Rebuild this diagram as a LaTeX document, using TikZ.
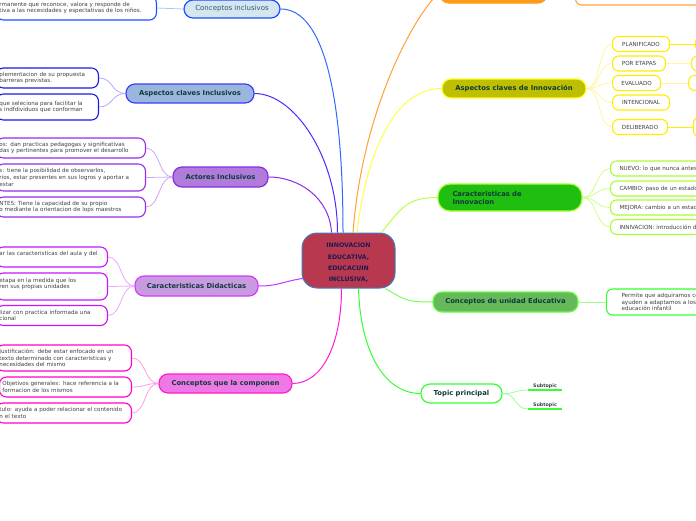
\documentclass[tikz,border=0pt]{standalone}
\usepackage{fontspec}
\setmainfont{DejaVu Sans}
\usetikzlibrary{positioning}
\definecolor{rootfill}{HTML}{B8394F}
\definecolor{rootline}{HTML}{3F7FBF}
\definecolor{roottext}{HTML}{1B1B4F}
\definecolor{topictext}{HTML}{0F3B3B}
\definecolor{leaftext}{HTML}{404040}
\definecolor{ciconn}{HTML}{3366FF}
\definecolor{cifill}{HTML}{D5E6F0}
\definecolor{ciline}{HTML}{1A52FF}
\definecolor{citext}{HTML}{2D5F66}
\definecolor{citwig}{HTML}{A9C4FF}
\definecolor{aciconn}{HTML}{4A2BFF}
\definecolor{acifill}{HTML}{9BB6DC}
\definecolor{aciline}{HTML}{3D3DFF}
\definecolor{acileaf}{HTML}{1A1AE6}
\definecolor{acitwig}{HTML}{B3A9FF}
\definecolor{aiconn}{HTML}{8A2BF0}
\definecolor{aifill}{HTML}{B07BDB}
\definecolor{ailine}{HTML}{8B2BE2}
\definecolor{aileaf}{HTML}{9A2BEA}
\definecolor{aitwig}{HTML}{CFA5F2}
\definecolor{cdconn}{HTML}{CC33FF}
\definecolor{cdfill}{HTML}{C89AE0}
\definecolor{cdline}{HTML}{D23CFF}
\definecolor{cdleaf}{HTML}{CC11FF}
\definecolor{cdtwig}{HTML}{EEA6FF}
\definecolor{cqcconn}{HTML}{FF1AD9}
\definecolor{cqcfill}{HTML}{EE78E6}
\definecolor{cqcline}{HTML}{FF1ACC}
\definecolor{cqcleaf}{HTML}{FF00CC}
\definecolor{cqctwig}{HTML}{FF9EE8}
\definecolor{oconn}{HTML}{FFA033}
\definecolor{ofill}{HTML}{FF9A1A}
\definecolor{oleaf}{HTML}{FFA530}
\definecolor{yconn}{HTML}{FFFF44}
\definecolor{yfill}{HTML}{BDBF00}
\definecolor{yline}{HTML}{FFFF26}
\definecolor{yleaf}{HTML}{FFEE00}
\definecolor{ytwig}{HTML}{FFF59E}
\definecolor{gconn}{HTML}{BBFF44}
\definecolor{gfill}{HTML}{1FBE10}
\definecolor{gline}{HTML}{A6FF33}
\definecolor{gtwig}{HTML}{CCFF88}
\definecolor{ueconn}{HTML}{77FF55}
\definecolor{uefill}{HTML}{66B95A}
\definecolor{ueline}{HTML}{66FF44}
\definecolor{ueleaf}{HTML}{33FF33}
\definecolor{uetwig}{HTML}{99FF88}
\definecolor{tpconn}{HTML}{33FF33}
\definecolor{tptwig}{HTML}{99FF99}

\begin{document}
\begin{tikzpicture}[x=1pt,y=-1pt,
  topic/.style={draw,rounded corners=9pt,line width=1.2pt,minimum height=19pt,inner sep=0pt,
    font=\fontsize{6.8}{8}\selectfont\bfseries,text=topictext},
  leafL/.style={draw,fill=white,rounded corners=7pt,line width=1.1pt,anchor=east,align=left,
    inner xsep=3pt,inner ysep=1pt,font=\fontsize{5.6}{6.6}\selectfont,text=leaftext},
  leafR/.style={draw,fill=white,rounded corners=6pt,line width=1.1pt,anchor=west,
    minimum height=15pt,inner sep=0pt,font=\fontsize{5.6}{6.6}\selectfont,text=leaftext},
  link/.style={line width=1pt},
  twig/.style={line width=0.8pt}]
\useasboundingbox (0,0) rectangle (696,520);

% central topic
\node[draw=rootline,fill=rootfill,line width=1pt,rounded corners=15pt,minimum width=93pt,
  minimum height=55pt,align=center,font=\fontsize{6.2}{11.3}\selectfont\bfseries,text=roottext]
  (root) at (348.5,260.5) {\rule{0pt}{9.7pt}INNOVACION\\EDUCATIVA,\\EDUCACUIN\\INCLUSIVA,};

% left side
\node[topic,draw=ciline,fill=cifill,minimum width=96pt,minimum height=18pt,
  font=\fontsize{7}{8}\selectfont,text=citext] (ci) at (232,9) {Conceptos inclusivos};
\node[leafL,draw=ciline,text width=154pt,minimum height=24pt] (ci1) at (157,8)
  {rmanente que reconoce, valora y responde de\\tiva a las necesidades y espectativas de los niños.};

\node[topic,draw=aciline,fill=acifill,minimum width=128pt] (aci) at (190,93.5) {Aspectos claves Inclusivos};
\node[leafL,draw=acileaf,text width=96pt,minimum height=20pt] (aci1) at (99,78)
  {plementacion de su propuesta\\ barreras previstas.};
\node[leafL,draw=acileaf,text width=96pt,minimum height=26pt] (aci2) at (99,107)
  {que seleciona para facilitar la\\s indfdividuos que conforman};

\node[topic,draw=ailine,fill=aifill,minimum width=95pt,minimum height=20pt] (ai) at (220.5,177) {Actores Inclusivos};
\node[leafL,draw=aileaf,text width=143pt,minimum height=20pt] (ai1) at (146,148)
  {os: dan practicas pedagogas y significativas\\das y pertinentes para promover el desarrollo};
\node[leafL,draw=aileaf,text width=143pt,minimum height=27pt] (ai2) at (146,177.5)
  {s: tiene la posibilidad de observarlos,\\rios, estar presentes en sus logros y aportar a\\estar};
\node[leafL,draw=aileaf,text width=143pt,minimum height=20pt] (ai3) at (146,207)
  {NTES: Tiene la capacidad de su propio\\o mediante la orientacion de lops maestros};

\node[topic,draw=cdline,fill=cdfill,minimum width=123pt,minimum height=20pt] (cd) at (196.5,286) {Caracteristicas Didacticas};
\node[leafL,draw=cdleaf,text width=105pt,minimum height=20pt] (cd1) at (108,257)
  {ar las caracteristicas del aula y del\\\mbox{}};
\node[leafL,draw=cdleaf,text width=105pt,minimum height=27pt] (cd2) at (108,286.5)
  {etapa en la medida que los\\ren sus propias unidades\\\mbox{}};
\node[leafL,draw=cdleaf,text width=105pt,minimum height=20pt] (cd3) at (108,315.5)
  {lizar con practica informada una\\cional};

\node[topic,draw=cqcline,fill=cqcfill,minimum width=133pt] (cqc) at (225.5,383.5) {Conceptos que la componen};
\node[leafL,draw=cqcleaf,text width=129pt,minimum height=26pt] (cqc1) at (132,358)
  {Justificación: debe estar enfocado en un\\texto determinado con caracteristicas y\\necesidades del mismo};
\node[leafL,draw=cqcleaf,text width=126pt,minimum height=20pt] (cqc2) at (132,387)
  {Objetivos generales: hace referencia a la\\formacion de los mismos};
\node[leafL,draw=cqcleaf,text width=129pt,minimum height=20pt] (cqc3) at (132,413)
  {tulo: ayuda a poder relacionar el contenido\\n el texto};

% right side
\node[topic,draw=ofill,fill=ofill,minimum width=107pt,minimum height=20pt] (oi) at (493.5,-7) {};
\node[leafR,draw=oleaf,text width=120pt,inner xsep=16pt,minimum height=26pt,align=left] (oi1) at (575,-8)
  {\mbox{}\\\mbox{}\\evaluación.};

\node[topic,draw=yline,fill=yfill,minimum width=144pt] (acn) at (514,88.5) {Aspectos claves de Innovación};
\node[leafR,draw=yleaf,minimum width=57pt] (pl) at (612,44) {PLANIFICADO};
\node[leafR,draw=yleaf,minimum width=53pt] (pe) at (612,63.5) {POR ETAPAS};
\node[leafR,draw=yleaf,minimum width=48pt] (ev) at (612,83) {EVALUADO};
\node[leafR,draw=yleaf,minimum width=57pt] (in) at (612,102.5) {INTENCIONAL};
\node[leafR,draw=yleaf,minimum width=55pt] (de) at (612,127) {DELIBERADO};
\node[leafR,draw=yleaf,minimum width=30pt] (pl2) at (695,44) {};
\node[leafR,draw=yleaf,minimum width=30pt] (pe2) at (691,63.5) {};
\node[leafR,draw=yleaf,minimum width=30pt] (ev2) at (688,83) {};
\node[leafR,draw=yleaf,minimum width=30pt,minimum height=20pt] (de2) at (693,127) {};

\node[topic,draw=gline,fill=gfill,minimum width=144pt,minimum height=27pt,rounded corners=12pt,
  align=left,text width=115pt] (cin) at (510,197.5) {Caracteristicas de\\Innovacion};
\node[leafR,draw=gline,text width=90pt,inner xsep=9pt,align=left] (cin1) at (610,168.5) {NUEVO: lo que nunca antes};
\node[leafR,draw=gline,text width=90pt,inner xsep=9pt,align=left] (cin2) at (610,188.5) {CAMBIO: paso de un estado};
\node[leafR,draw=gline,text width=90pt,inner xsep=9pt,align=left] (cin3) at (610,207.5) {MEJORA: cambio a un estad};
\node[leafR,draw=gline,text width=90pt,inner xsep=9pt,align=left] (cin4) at (610,227) {INNIVACION: introducción d};

\node[topic,draw=ueline,fill=uefill,minimum width=145pt,minimum height=20pt] (cue) at (505.5,302) {Conceptos de unidad Educativa};
\node[leafR,draw=ueleaf,text width=90pt,inner xsep=15pt,minimum height=26pt,align=left] (cue1) at (606,302)
  {Permite que adquiramos co\\ayuden a adaptamos a los\\educación infantil};

\node[topic,draw=tpconn,fill=white,minimum width=81pt] (tp) at (461.5,393.5) {Topic principal};
\node[font=\fontsize{4.8}{5}\selectfont\bfseries,text=leaftext,minimum width=33pt,inner sep=1.5pt] (st1) at (545,386) {Subtopic};
\node[font=\fontsize{4.8}{5}\selectfont\bfseries,text=leaftext,minimum width=33pt,inner sep=1.5pt] (st2) at (545,405) {Subtopic};
\draw[tpconn,line width=1.6pt] (st1.south west) -- (st1.south east);
\draw[tpconn,line width=1.6pt] (st2.south west) -- (st2.south east);

% branches from the central topic
\draw[link,ciconn] ([xshift=-5.5pt]root.north) .. controls +(0,-130) and +(45,0) .. (ci.east);
\draw[link,aciconn] ([xshift=-11pt]root.north) .. controls +(0,-75) and +(40,0) .. (aci.east);
\draw[link,aiconn] ([xshift=-17pt]root.north) .. controls +(-2,-35) and +(30,0) .. (ai.east);
\draw[link,cdconn] ([xshift=1pt,yshift=-18pt]root.west) .. controls +(-20,3) and +(20,0) .. (cd.east);
\draw[link,cqcconn] ([xshift=-7pt]root.south) .. controls +(0,55) and +(30,0) .. (cqc.east);
\draw[link,oconn] ([xshift=4.5pt]root.north) .. controls +(10,-130) and +(-20,15) .. (oi.west);
\draw[link,yconn] ([xshift=8.5pt]root.north) .. controls +(10,-85) and +(-45,0) .. (acn.west);
\draw[link,gconn] ([xshift=-14pt]root.north east) .. controls +(20,-25) and +(-30,0) .. (cin.west);
\draw[link,ueconn] ([xshift=-10pt]root.south east) .. controls +(20,12) and +(-25,0) .. (cue.west);
\draw[link,tpconn] ([xshift=10pt]root.south) .. controls +(2,65) and +(-35,0) .. (tp.west);

% twigs to the leaves
\draw[twig,citwig] (ci.west) -- (ci1.east);
\draw[twig,acitwig] (aci.west) .. controls +(-14,0) and +(14,0) .. (aci1.east);
\draw[twig,acitwig] (aci.west) .. controls +(-14,0) and +(14,0) .. (aci2.east);
\draw[twig,aitwig] (ai.west) .. controls +(-14,0) and +(14,0) .. (ai1.east);
\draw[twig,aitwig] (ai.west) -- (ai2.east);
\draw[twig,aitwig] (ai.west) .. controls +(-14,0) and +(14,0) .. (ai3.east);
\draw[twig,cdtwig] (cd.west) .. controls +(-14,0) and +(14,0) .. (cd1.east);
\draw[twig,cdtwig] (cd.west) -- (cd2.east);
\draw[twig,cdtwig] (cd.west) .. controls +(-14,0) and +(14,0) .. (cd3.east);
\draw[twig,cqctwig] (cqc.west) .. controls +(-14,0) and +(14,0) .. (cqc1.east);
\draw[twig,cqctwig] (cqc.west) .. controls +(-14,0) and +(14,0) .. (cqc2.east);
\draw[twig,cqctwig] (cqc.west) .. controls +(-14,0) and +(14,0) .. (cqc3.east);
\draw[twig,oleaf] (oi.east) -- (oi1.west);
\draw[twig,ytwig] (acn.east) .. controls +(14,0) and +(-14,0) .. (pl.west);
\draw[twig,ytwig] (acn.east) .. controls +(14,0) and +(-14,0) .. (pe.west);
\draw[twig,ytwig] (acn.east) .. controls +(14,0) and +(-14,0) .. (ev.west);
\draw[twig,ytwig] (acn.east) .. controls +(14,0) and +(-14,0) .. (in.west);
\draw[twig,ytwig] (acn.east) .. controls +(14,0) and +(-14,0) .. (de.west);
\draw[twig,yleaf] (pl.east) -- (pl2.west);
\draw[twig,ytwig] (pe.east) -- (pe2.west);
\draw[twig,ytwig] (ev.east) -- (ev2.west);
\draw[twig,yleaf] (de.east) -- (de2.west);
\draw[twig,gtwig] (cin.east) .. controls +(14,0) and +(-14,0) .. (cin1.west);
\draw[twig,gtwig] (cin.east) .. controls +(14,0) and +(-14,0) .. (cin2.west);
\draw[twig,gtwig] (cin.east) .. controls +(14,0) and +(-14,0) .. (cin3.west);
\draw[twig,gtwig] (cin.east) .. controls +(14,0) and +(-14,0) .. (cin4.west);
\draw[twig,uetwig] (cue.east) -- (cue1.west);
\draw[twig,tptwig] (tp.east) .. controls +(14,0) and +(-14,0) .. (st1.south west);
\draw[twig,tptwig] (tp.east) .. controls +(14,0) and +(-14,0) .. (st2.south west);
\end{tikzpicture}
\end{document}
